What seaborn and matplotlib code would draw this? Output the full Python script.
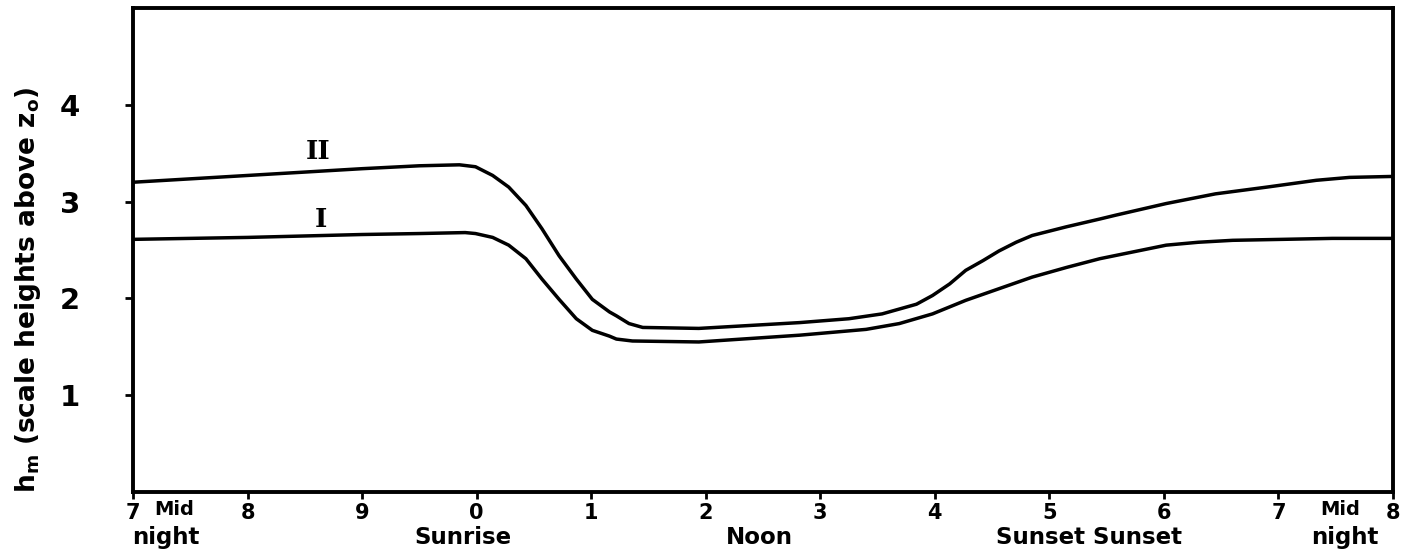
import matplotlib
matplotlib.use("Agg")
import matplotlib.pyplot as plt
import seaborn as sns
import pandas as pd

# ---- data ----
hours_I = [0, 1, 2, 2.5, 2.9, 2.99, 3.14, 3.28, 3.43, 3.57, 3.72, 3.87, 4.01, 4.16,
           4.22, 4.36, 4.94, 5.82, 6.40, 6.69, 6.98, 7.27, 7.56, 7.85, 8.15, 8.44,
           9.02, 9.3, 9.6, 10.47, 11]
h_I = [2.61, 2.63, 2.66, 2.67, 2.68, 2.67, 2.63, 2.55, 2.41, 2.20, 1.99, 1.79, 1.67, 1.61,
       1.58, 1.56, 1.55, 1.62, 1.68, 1.74, 1.84, 1.98, 2.10, 2.22, 2.32, 2.41,
       2.55, 2.58, 2.60, 2.62, 2.62]

hours_II = [0, 1, 2, 2.5, 2.85, 2.99, 3.14, 3.28, 3.43, 3.57, 3.72, 3.87, 4.01, 4.16,
            4.22, 4.33, 4.45, 4.94, 5.82, 6.25, 6.54, 6.69, 6.84, 6.98, 7.13, 7.27,
            7.42, 7.56, 7.71, 7.85, 8.15, 8.44, 8.58, 9.02, 9.45, 9.9, 10.33, 10.62, 11]
h_II = [3.20, 3.27, 3.34, 3.37, 3.38, 3.36, 3.27, 3.15, 2.96, 2.72, 2.44, 2.20, 1.99, 1.86,
        1.82, 1.74, 1.70, 1.69, 1.75, 1.79, 1.84, 1.89, 1.94, 2.03, 2.15, 2.29,
        2.39, 2.49, 2.58, 2.65, 2.74, 2.82, 2.86, 2.98, 3.08, 3.15, 3.22, 3.25, 3.26]

xtick_pos = list(range(12))
xtick_labels = ["7", "8", "9", "0", "1", "2", "3", "4", "5", "6", "7", "8"]
ytick_pos = [1, 2, 3, 4]
ytick_labels = ["1", "2", "3", "4"]

event_labels = ["night", "Sunrise", "Noon", "Sunset Sunset", "night"]
event_pos = [0.29, 2.88, 5.47, 8.35, 10.58]
mid_labels = ["Mid", "Mid"]
mid_pos = [0.36, 10.54]

curve_names = ["I", "II"]
curve_label_pos = [(1.64, 2.82), (1.62, 3.52)]

ylabel_text = r"h$_\mathbf{m}$ (scale heights above z$_\mathbf{o}$)"

# ---- build ----
df = pd.concat([
    pd.DataFrame({"hour": hours_I, "h": h_I, "curve": "I"}),
    pd.DataFrame({"hour": hours_II, "h": h_II, "curve": "II"}),
])

sns.set_theme(style="white")
plt.rcParams["font.family"] = ["DejaVu Sans"]
plt.rcParams["text.color"] = "black"
plt.rcParams["xtick.color"] = "black"
plt.rcParams["ytick.color"] = "black"
plt.rcParams["axes.labelcolor"] = "black"

fig = plt.figure(figsize=(14.03, 5.57), dpi=100)
ax = fig.add_axes([133 / 1403, 1 - 492 / 557, (1393 - 133) / 1403, (492 - 8) / 557])

sns.lineplot(data=df, x="hour", y="h", hue="curve", palette=["black", "black"],
             linewidth=2.5, legend=False, ax=ax, sort=False)

ax.set_xlim(0, 11)
ax.set_ylim(0, 5)
ax.set_xticks(xtick_pos)
ax.set_xticklabels(xtick_labels, fontsize=15, fontweight="bold")
ax.set_yticks(ytick_pos)
ax.set_yticklabels(ytick_labels, fontsize=21, fontweight="bold")
ax.tick_params(axis="x", bottom=True, direction="out", length=5, width=2, pad=3)
ax.tick_params(axis="y", left=True, direction="out", length=6, width=2, pad=32)
ax.set_xlabel("")
ax.set_ylabel("")

for s in ax.spines.values():
    s.set_color("black")
    s.set_linewidth(2.8)

fig.text(28 / 1403, 1 - 290 / 557, ylabel_text, rotation=90, ha="center", va="center",
         fontsize=19, fontweight="bold")

trans = ax.get_xaxis_transform()
for lab, xp in zip(mid_labels, mid_pos):
    ax.text(xp, -0.037, lab, transform=trans, ha="center", va="center",
            fontsize=14, fontweight="bold")
for lab, xp in zip(event_labels, event_pos):
    ax.text(xp, -0.094, lab, transform=trans, ha="center", va="center",
            fontsize=16.5, fontweight="bold")

for name, (xp, yp) in zip(curve_names, curve_label_pos):
    ax.text(xp, yp, name, ha="center", va="center", fontsize=19,
            fontweight="bold", family="DejaVu Serif")

fig.savefig("out.png", dpi=100)
